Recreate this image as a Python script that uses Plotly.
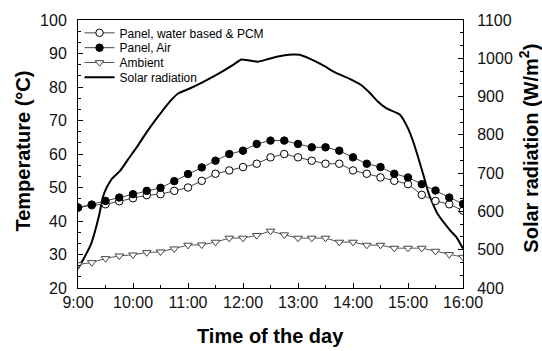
import plotly.graph_objects as go

# ---------------- data ----------------
TIME_LABELS = ["9:00", "10:00", "11:00", "12:00", "13:00", "14:00", "15:00", "16:00"]

TIMES = ["9:00", "9:15", "9:30", "9:45", "10:00", "10:15", "10:30", "10:45",
         "11:00", "11:15", "11:30", "11:45", "12:00", "12:15", "12:30", "12:45",
         "13:00", "13:15", "13:30", "13:45", "14:00", "14:15", "14:30", "14:45",
         "15:00", "15:15", "15:30", "15:45", "16:00"]

PANEL_PCM = [44.0, 44.7, 45.0, 45.9, 46.8, 47.7, 48.0, 49.0,
             50.0, 52.0, 54.1, 55.1, 56.1, 57.1, 59.0, 60.0,
             59.0, 58.0, 57.1, 57.1, 55.1, 54.1, 53.0, 52.0,
             51.0, 47.8, 46.0, 45.0, 43.1]

PANEL_AIR = [44.0, 44.9, 46.0, 47.0, 48.0, 49.0, 49.9, 51.9,
             54.0, 56.0, 58.0, 60.0, 61.0, 63.0, 64.0, 64.0,
             63.0, 62.0, 62.0, 61.0, 59.0, 57.1, 56.1, 54.1,
             53.0, 51.0, 49.1, 47.0, 45.1]

AMBIENT = [27.0, 27.6, 28.8, 29.6, 29.9, 30.6, 30.8, 31.7,
           32.8, 32.9, 33.7, 34.9, 34.9, 35.7, 37.0, 35.9,
           34.9, 34.9, 34.9, 33.7, 33.7, 32.8, 32.8, 31.9,
           31.9, 31.9, 31.0, 30.0, 29.2]

SOLAR_HOURS = [9.00, 9.12, 9.24, 9.39, 9.45, 9.52, 9.61, 9.76, 9.91, 10.06,
               10.24, 10.43, 10.67, 10.82, 11.03, 11.27, 11.58, 11.82, 11.97,
               12.12, 12.27, 12.48, 12.73, 12.91, 13.03, 13.21, 13.45, 13.69,
               13.93, 14.14, 14.29, 14.45, 14.61, 14.85, 15.00, 15.10, 15.26,
               15.38, 15.54, 15.77, 15.88, 16.00]
SOLAR = [451, 481, 516, 594, 636, 662, 684, 705, 736, 766,
         805, 843, 887, 908, 921, 938, 962, 983, 997,
         994, 991, 999, 1007, 1010, 1009, 999, 982, 962,
         947, 931, 912, 887, 869, 853, 817, 780, 705,
         645, 593, 550, 533, 503]

SERIES_NAMES = ["Panel, water based & PCM", "Panel, Air", "Ambient", "Solar radiation"]


def to_hours(s):
    h, m = s.split(":")
    return int(h) + int(m) / 60.0


x_t = [to_hours(t) for t in TIMES]
tick_vals = [to_hours(t) for t in TIME_LABELS]

FONT = "Arial, Liberation Sans, sans-serif"

fig = go.Figure()

# solar radiation on primary (right) axis so temperature markers draw on top
fig.add_trace(go.Scatter(
    x=SOLAR_HOURS, y=SOLAR, mode="lines", name=SERIES_NAMES[3],
    line=dict(color="black", width=2, shape="spline", smoothing=0.45),
    yaxis="y", legend="legend4", showlegend=True))

fig.add_trace(go.Scatter(
    x=x_t, y=PANEL_PCM, mode="lines+markers", name=SERIES_NAMES[0],
    line=dict(color="#444444", width=1),
    marker=dict(symbol="circle", size=7.5, color="white",
                line=dict(color="black", width=1)),
    yaxis="y2", legend="legend", showlegend=True))

fig.add_trace(go.Scatter(
    x=x_t, y=PANEL_AIR, mode="lines+markers", name=SERIES_NAMES[1],
    line=dict(color="#444444", width=1),
    marker=dict(symbol="circle", size=7.5, color="black",
                line=dict(color="black", width=1)),
    yaxis="y2", legend="legend2", showlegend=True))

fig.add_trace(go.Scatter(
    x=x_t, y=AMBIENT, mode="lines+markers", name=SERIES_NAMES[2],
    line=dict(color="#555555", width=1),
    marker=dict(symbol="triangle-down", size=7.5, color="white",
                line=dict(color="#444444", width=1)),
    yaxis="y2", legend="legend3", showlegend=True))

axis_common = dict(showline=True, linecolor="black", linewidth=1,
                   ticks="inside", ticklen=5, tickcolor="black", tickwidth=1,
                   showgrid=False, zeroline=False,
                   tickfont=dict(family=FONT, size=16, color="#111111"))

fig.update_layout(
    width=542, height=351,
    margin=dict(l=78, r=79, t=17, b=63),
    paper_bgcolor="white", plot_bgcolor="white",
    showlegend=True,
    font=dict(family=FONT, color="black"),
    xaxis=dict(range=[9, 16], tickvals=tick_vals, ticktext=TIME_LABELS,
               mirror=True,
               minor=dict(dtick=0.5, ticks="inside", ticklen=3, tickcolor="black"),
               ticklabelstandoff=0,
               **axis_common),
    yaxis=dict(range=[400, 1100], dtick=100, side="right",
               minor=dict(dtick=100 / 3, ticks="inside", ticklen=3, tickcolor="black"),
               ticklabelstandoff=10,
               **axis_common),
    yaxis2=dict(range=[20, 100], dtick=10, side="left", overlaying="y",
                minor=dict(dtick=10 / 3, ticks="inside", ticklen=3, tickcolor="black"),
                ticklabelstandoff=7,
                **axis_common),
)

leg_common = dict(x=0.004, xanchor="left", yanchor="middle",
                  bgcolor="rgba(0,0,0,0)", borderwidth=0, visible=True,
                  font=dict(family=FONT, size=12, color="black"))
fig.update_layout(
    legend=dict(y=(288 - 30) / 271, **leg_common),
    legend2=dict(y=(288 - 45) / 271, **leg_common),
    legend3=dict(y=(288 - 60) / 271, **leg_common),
    legend4=dict(y=(288 - 75) / 271, **leg_common),
)

fig.add_annotation(text="<b>Temperature (°C)</b>", xref="paper", yref="paper",
                   x=(23 - 78) / 385, y=0.509, textangle=-90, showarrow=False,
                   xanchor="center", yanchor="middle",
                   font=dict(family=FONT, size=20, color="black"))
fig.add_annotation(text="<b>Solar radiation (W/m<sup>2</sup>)</b>", xref="paper", yref="paper",
                   x=(529 - 78) / 385, y=0.52, textangle=-90, showarrow=False,
                   xanchor="center", yanchor="middle",
                   font=dict(family=FONT, size=20, color="black"))
fig.add_annotation(text="<b>Time of the day</b>", xref="paper", yref="paper",
                   x=0.499, y=(288 - 337) / 271, showarrow=False,
                   xanchor="center", yanchor="middle",
                   font=dict(family=FONT, size=20, color="black"))

fig.write_html("out.html")
